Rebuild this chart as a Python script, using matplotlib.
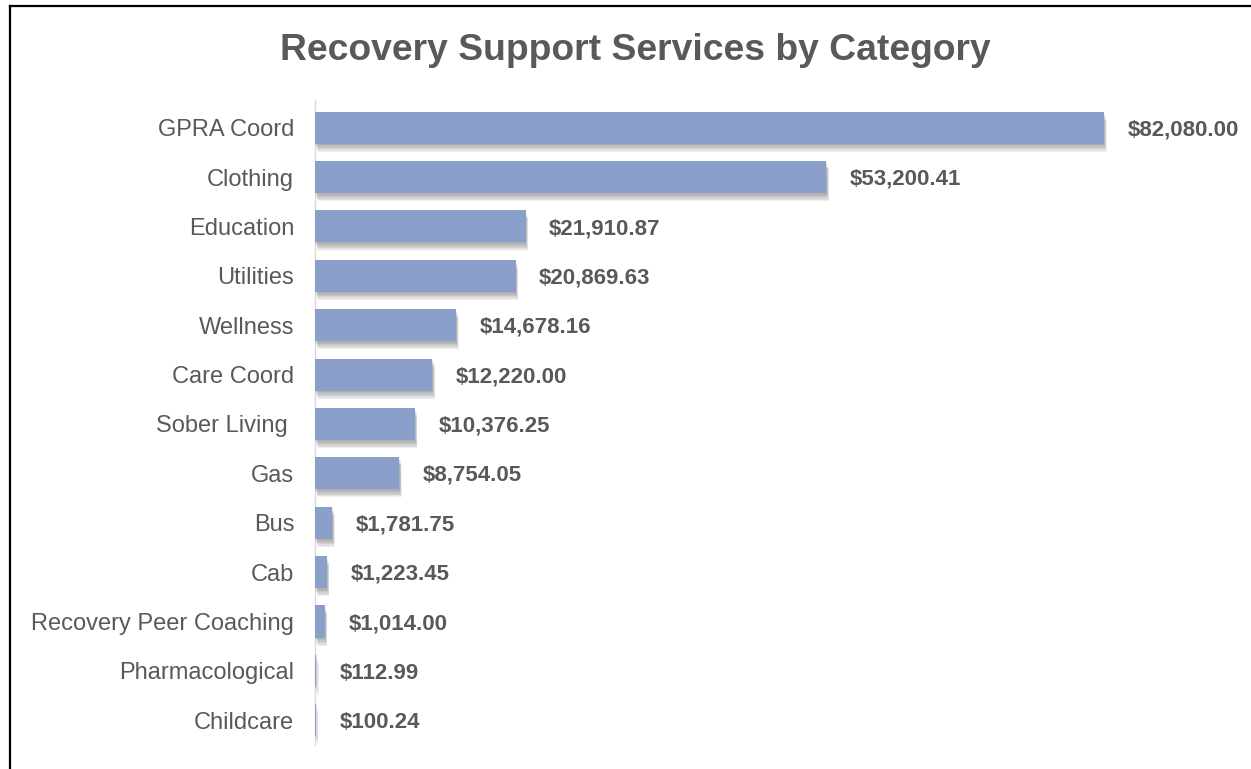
import matplotlib
matplotlib.use("Agg")
import matplotlib.pyplot as plt
import matplotlib.patheffects as pe
from matplotlib.lines import Line2D

plt.rcParams['font.family'] = ['Liberation Sans', 'DejaVu Sans']

# Recovery support spending per category
categories = ["GPRA Coord", "Clothing", "Education", "Utilities", "Wellness", "Care Coord",
              "Sober Living ", "Gas", "Bus", "Cab", "Recovery Peer Coaching",
              "Pharmacological", "Childcare"]
amounts = [82080.00, 53200.41, 21910.87, 20869.63, 14678.16, 12220.00,
           10376.25, 8754.05, 1781.75, 1223.45, 1014.00, 112.99, 100.24]

barColor = "#8b9fcb"
textColor = "#595959"

W, H = 1251, 769
fig = plt.figure(figsize=(W / 100, H / 100), dpi=100)

# axes placed in pixel terms: zero line at x=315, top 100, bottom 745
axLeft, axRight = 315, 1230
axTop, axBottom = 100, 745
ax = fig.add_axes([axLeft / W, 1 - axBottom / H, (axRight - axLeft) / W, (axBottom - axTop) / H])

pxPerUnit = (1104 - 315) / amounts[0]
ax.set_xlim(0, (axRight - axLeft) / pxPerUnit)
ax.set_ylim(12.5, -0.56)

# soft drop shadow built from a few stacked offsets, mostly downward
shadow = [pe.SimplePatchShadow(offset=(dx, -dy), shadow_rgbFace="#303030", alpha=0.075)
          for dx, dy in [(0.3, 1), (0.7, 2), (1.0, 3), (1.3, 4), (1.6, 5), (1.8, 5.8)]]
bars = ax.barh(range(len(categories)), amounts, height=0.65, color=barColor,
               path_effects=shadow + [pe.Normal()], zorder=3)

for i, v in enumerate(amounts):
    ax.annotate("${:,.2f}".format(v), xy=(v, i), xytext=(17, -1.5), textcoords="offset points",
                ha="left", va="center", fontsize=16, fontweight="bold", color=textColor)

ax.set_yticks(range(len(categories)))
ax.set_yticklabels(categories, fontsize=17, color=textColor)
ax.tick_params(axis="y", length=0, pad=15)
ax.set_xticks([])
for side in ["top", "right", "bottom"]:
    ax.spines[side].set_visible(False)
ax.spines["left"].set_color("#d9d9d9")
ax.spines["left"].set_linewidth(1)

fig.text(0.508, 1 - 51 / H, "Recovery Support Services by Category", ha="center", va="center",
         fontsize=26.8, fontweight="bold", color=textColor)

# frame lines along the top and left edges
fig.add_artist(Line2D([10 / W, 1], [1 - 6 / H, 1 - 6 / H], color="black", linewidth=1.6))
fig.add_artist(Line2D([10 / W, 10 / W], [0, 1 - 6 / H], color="black", linewidth=1.6))

fig.savefig("out.png", dpi=100, facecolor="white")
